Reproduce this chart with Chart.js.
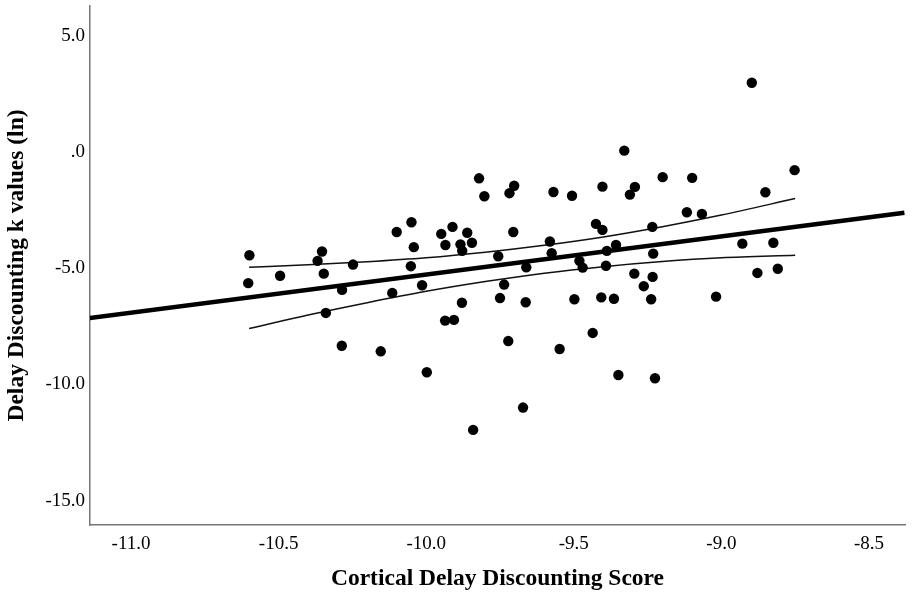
<!DOCTYPE html>
<html>
<head>
<meta charset="utf-8">
<script src="https://cdn.jsdelivr.net/npm/chart.js@4/dist/chart.umd.min.js"></script>
<style>
  html, body { margin: 0; padding: 0; background: #fff; }
  #wrap { width: 913px; height: 600px; }
</style>
</head>
<body>
<div id="wrap"><canvas id="c" width="913" height="600"></canvas></div>
<script>
// Cortical delay discounting score (x) and ln k (y)
const cortScore = [
  -10.599, -10.603, -10.495, -10.353, -10.368, -10.347, -10.248, -10.285, -10.340, -10.286,
  -10.154, -9.998, -10.100, -10.050, -10.042, -10.052, -10.014, -10.115, -9.949, -9.911,
  -9.935, -9.884, -9.936, -9.906, -9.879, -9.861, -9.845, -9.878, -9.821, -9.803,
  -9.718, -9.702, -9.705, -9.756, -9.661, -9.736, -9.750, -9.663, -9.722, -9.548,
  -9.672, -9.841, -9.569, -9.506, -9.403, -9.329, -9.293, -9.310, -9.199, -9.581,
  -9.575, -9.425, -9.403, -9.357, -9.388, -9.481, -9.470, -9.391, -9.234, -9.231,
  -9.295, -9.233, -9.263, -9.238, -9.498, -9.407, -9.364, -9.436, -9.349, -9.225,
  -8.897, -8.752, -9.099, -8.851, -9.117, -9.066, -8.929, -8.824, -8.878, -8.809,
  -9.018
];
const kValues = [
  -4.53, -5.73, -5.41, -4.37, -4.77, -5.32, -4.93, -6.02, -7.01, -8.42,
  -8.66, -9.56, -3.53, -3.11, -4.18, -5.00, -5.82, -6.15, -3.61, -3.31,
  -4.09, -4.06, -7.34, -7.31, -6.57, -3.56, -3.99, -4.34, -1.22, -1.99,
  -1.86, -1.54, -3.53, -4.57, -5.05, -5.79, -6.37, -6.55, -8.22, -8.56,
  -11.08, -12.04, -1.81, -1.97, -1.58, -0.03, -1.59, -1.92, -1.17, -3.94,
  -4.44, -3.18, -3.44, -4.09, -4.34, -4.77, -5.06, -4.98, -3.31, -4.46,
  -5.32, -5.46, -5.86, -6.42, -6.42, -6.34, -6.40, -7.87, -9.68, -9.82,
  2.89, -0.87, -1.20, -1.82, -2.68, -2.75, -4.03, -3.99, -5.29, -5.11,
  -6.31
];

// Fit line (read at the plot edges)
const fitX = [-11.14, -8.38];
const fitY = [-7.23, -2.70];

// 95% confidence band
const bandX = [-10.60, -10.40, -10.20, -10.00, -9.80, -9.60, -9.40, -9.20, -9.00, -8.75];
const bandUpper = [-5.04, -4.94, -4.81, -4.64, -4.40, -4.10, -3.74, -3.30, -2.80, -2.09];
const bandLower = [-7.68, -7.10, -6.57, -6.08, -5.66, -5.30, -5.02, -4.80, -4.64, -4.53];

// Axis ticks
const xTicks = [-11.0, -10.5, -10.0, -9.5, -9.0, -8.5];
const yTicks = [-15.0, -10.0, -5.0, 0.0, 5.0];

const xTitle = 'Cortical Delay Discounting Score';
const yTitle = 'Delay Discounting k values (ln)';

const pts = (xs, ys) => xs.map((x, i) => ({ x: x, y: ys[i] }));
const serif = 'Liberation Serif, Times New Roman, serif';
const fmt = v => (v === 0 ? '.0' : v.toFixed(1));

new Chart(document.getElementById('c'), {
  type: 'scatter',
  data: {
    datasets: [
      {
        label: 'Participants',
        data: pts(cortScore, kValues),
        backgroundColor: '#000',
        borderColor: '#000',
        pointRadius: 5.2,
        pointHoverRadius: 5.2,
        borderWidth: 0,
        order: 1
      },
      {
        label: 'Upper CI',
        data: pts(bandX, bandUpper),
        showLine: true,
        cubicInterpolationMode: 'monotone',
        borderColor: '#111',
        borderWidth: 1.5,
        pointRadius: 0,
        fill: false,
        order: 2
      },
      {
        label: 'Lower CI',
        data: pts(bandX, bandLower),
        showLine: true,
        cubicInterpolationMode: 'monotone',
        borderColor: '#111',
        borderWidth: 1.5,
        pointRadius: 0,
        fill: false,
        order: 2
      },
      {
        label: 'Fit',
        data: pts(fitX, fitY),
        showLine: true,
        borderColor: '#000',
        borderWidth: 4.5,
        pointRadius: 0,
        fill: false,
        order: 0
      }
    ]
  },
  options: {
    responsive: false,
    animation: false,
    layout: { padding: { top: 6, right: 8, left: 0, bottom: 0 } },
    plugins: { legend: { display: false }, tooltip: { enabled: false } },
    scales: {
      x: {
        type: 'linear',
        min: -11.139,
        max: -8.378,
        afterBuildTicks: s => { s.ticks = xTicks.map(v => ({ value: v })); },
        afterFit: s => { s.height = 75; s.paddingLeft = 0; s.paddingRight = 0; },
        grid: { display: false, drawTicks: false },
        border: { display: true, color: '#777', width: 1.5 },
        ticks: {
          color: '#000',
          padding: 8,
          maxRotation: 0,
          font: { family: serif, size: 19 },
          callback: v => fmt(v)
        },
        title: {
          display: true,
          text: xTitle,
          color: '#000',
          font: { family: serif, size: 23.5, weight: 'bold' },
          padding: { top: 0, bottom: 7 }
        }
      },
      y: {
        type: 'linear',
        min: -16.13,
        max: 6.19,
        afterBuildTicks: s => { s.ticks = yTicks.map(v => ({ value: v })); },
        afterFit: s => { s.width = 90; s.paddingTop = 0; s.paddingBottom = 0; },
        grid: { display: false, drawTicks: false },
        border: { display: true, color: '#777', width: 1.5 },
        ticks: {
          color: '#000',
          padding: 5,
          labelOffset: 2,
          font: { family: serif, size: 19 },
          callback: v => fmt(v)
        },
        title: {
          display: true,
          text: yTitle,
          color: '#000',
          font: { family: serif, size: 23.5, weight: 'bold' },
          padding: { top: 3, bottom: 0 }
        }
      }
    }
  }
});
</script>
</body>
</html>
